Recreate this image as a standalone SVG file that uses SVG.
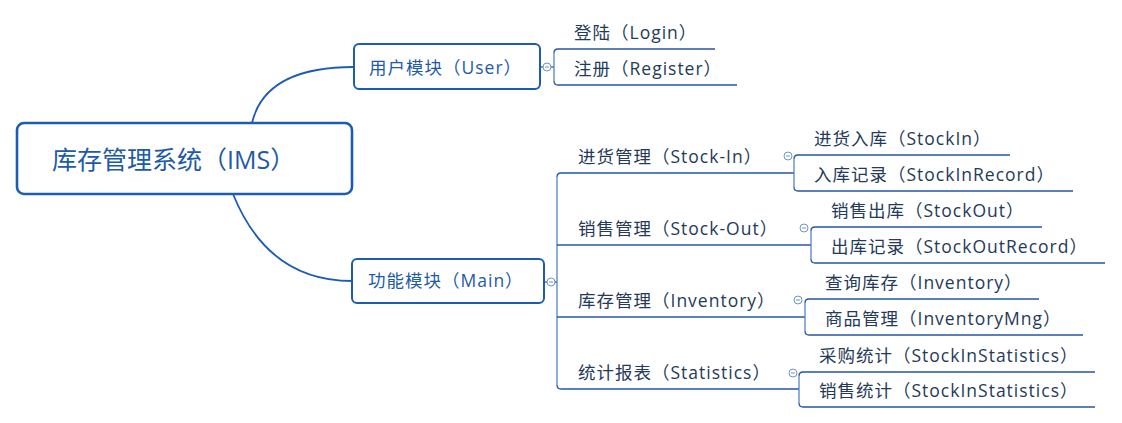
<svg xmlns="http://www.w3.org/2000/svg" width="1122" height="423" viewBox="0 0 1122 423">
<style>
text{font-family:"Open Sans","Noto Sans CJK SC",sans-serif}
.box{fill:#fff;stroke:#1c5db3;stroke-width:2}
.root{stroke-width:2.6}
.nt{fill:#1d5aa8;font-size:17.5px;letter-spacing:1px}
.rt{fill:#1d5aa8;font-size:25px}
.st{fill:#253a5a;font-size:17.5px;letter-spacing:1px}
.c{fill:none;stroke:#1c5db3;stroke-width:1.8}
.u{fill:none;stroke:#2457a6;stroke-width:1.3}
.b{fill:none;stroke:#5386cc;stroke-width:1.3}
.col{fill:#fff;stroke:#6b93cf;stroke-width:1}
.mn{stroke:#6b93cf;stroke-width:1}
</style>
<rect width="1122" height="423" fill="#fff"/>
<g id="connectors">
<path class="c" d="M252,123 Q265,67 354,67"/>
<path class="c" d="M233,194 Q268,281 352,281"/>
<path class="u" d="M540,67 H543"/>
<path class="u" d="M551,67 H554"/>
<path class="u" d="M544,282 H547"/>
<path class="u" d="M555,282 H557"/>
<path class="b" d="M557,177 V385"/>
<path class="u" d="M794,173 H561 Q557,173 557,177"/>
<path class="u" d="M557,385 Q557,389 561,389 H799"/>
<path class="u" d="M557,245 H811"/>
<path class="u" d="M557,317 H805"/>
</g>
<g id="root">
<rect class="box root" x="17" y="123" width="335" height="71" rx="7"/>
<text class="rt" x="52" y="169">库存管理系统（IMS）</text>
</g>
<g id="user">
<rect class="box" x="354" y="44" width="186" height="45" rx="5"/>
<text class="nt" x="369" y="74">用户模块（User）</text>
<circle class="col" cx="547" cy="67" r="4"/><path class="mn" d="M545,67 H549"/>
</g>
<g id="user-children">
<path class="b" d="M554,53 V81"/>
<path class="u" d="M715,49 H558 Q554,49 554,53"/>
<path class="u" d="M554,81 Q554,85 558,85 H737"/>
<text class="st" x="574" y="39">登陆（Login）</text>
<text class="st" x="574" y="75">注册（Register）</text>
</g>
<g id="main">
<rect class="box" x="352" y="259" width="192" height="44" rx="5"/>
<text class="nt" x="368" y="287">功能模块（Main）</text>
<circle class="col" cx="551" cy="282" r="4"/><path class="mn" d="M549,282 H553"/>
</g>
<g id="stock-in">
<text class="st" x="578" y="163">进货管理（Stock-In）</text>
<path class="b" d="M794,159 V187"/>
<path class="u" d="M1010,155 H798 Q794,155 794,159"/>
<path class="u" d="M794,187 Q794,191 798,191 H1073"/>
<circle class="col" cx="788" cy="156" r="4"/><path class="mn" d="M786,156 H790"/>
<text class="st" x="814" y="145">进货入库（StockIn）</text>
<text class="st" x="814" y="181">入库记录（StockInRecord）</text>
</g>
<g id="stock-out">
<text class="st" x="578" y="235">销售管理（Stock-Out）</text>
<path class="b" d="M811,231 V259"/>
<path class="u" d="M1042,227 H815 Q811,227 811,231"/>
<path class="u" d="M811,259 Q811,263 815,263 H1105"/>
<circle class="col" cx="804" cy="228" r="4"/><path class="mn" d="M802,228 H806"/>
<text class="st" x="831" y="217">销售出库（StockOut）</text>
<text class="st" x="831" y="253">出库记录（StockOutRecord）</text>
</g>
<g id="inventory">
<text class="st" x="578" y="307">库存管理（Inventory）</text>
<path class="b" d="M805,303 V331"/>
<path class="u" d="M1039,299 H809 Q805,299 805,303"/>
<path class="u" d="M805,331 Q805,335 809,335 H1083"/>
<circle class="col" cx="798" cy="300" r="4"/><path class="mn" d="M796,300 H800"/>
<text class="st" x="825" y="289">查询库存（Inventory）</text>
<text class="st" x="825" y="325">商品管理（InventoryMng）</text>
</g>
<g id="statistics">
<text class="st" x="578" y="379">统计报表（Statistics）</text>
<path class="b" d="M799,376 V403"/>
<path class="u" d="M1095,372 H803 Q799,372 799,376"/>
<path class="u" d="M799,403 Q799,407 803,407 H1095"/>
<circle class="col" cx="793" cy="373" r="4"/><path class="mn" d="M791,373 H795"/>
<text class="st" x="819" y="362">采购统计（StockInStatistics）</text>
<text class="st" x="819" y="397">销售统计（StockInStatistics）</text>
</g>
</svg>
